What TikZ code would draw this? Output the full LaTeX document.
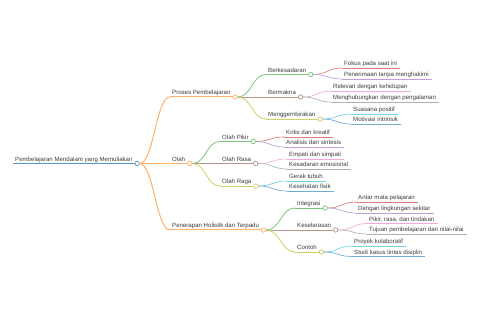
\documentclass[tikz,border=0pt]{standalone}
\usepackage{fontspec}
\setmainfont{Liberation Sans}
\usetikzlibrary{calc}
\definecolor{tcol}{HTML}{3C3C3C}
\definecolor{cblue}{HTML}{1F77B4}
\definecolor{corange}{HTML}{FF7F0E}
\definecolor{cgreen}{HTML}{2CA02C}
\definecolor{cred}{HTML}{D62728}
\definecolor{cpurple}{HTML}{9467BD}
\definecolor{cbrown}{HTML}{8C564B}
\definecolor{cpink}{HTML}{E377C2}
\definecolor{cgray}{HTML}{7F7F7F}
\definecolor{colive}{HTML}{BCBD22}
\definecolor{ccyan}{HTML}{17BECF}
\colorlet{kblue}{cblue!75!white}
\colorlet{korange}{corange!62!white}
\colorlet{kgreen}{cgreen!62!white}
\colorlet{kred}{cred!62!white}
\colorlet{kpurple}{cpurple!62!white}
\colorlet{kbrown}{cbrown!62!white}
\colorlet{kpink}{cpink!62!white}
\colorlet{kgray}{cgray!62!white}
\colorlet{kolive}{colive!70!white}
\colorlet{kcyan}{ccyan!62!white}
\colorlet{kblue2}{cblue!62!white}
\tikzset{
  txt/.style={anchor=base west, inner xsep=2pt, inner ysep=0pt, text=tcol,
    font=\fontsize{6.1}{7}\selectfont},
  dot/.style={circle, inner sep=0pt, minimum size=4.4pt, fill=white, draw=#1, line width=0.75pt},
}
\newcommand{\mmin}[6]{%
  \coordinate (s-#1) at (#2,#3);
  \node[txt] (t-#1) at ([yshift=2pt]s-#1) {#4};
  \node[dot=#5] (c-#1) at ([xshift=2.4pt,yshift=-2pt]t-#1.base east) {};
  \draw[#5, line width=#6] (s-#1) -- (c-#1.west);
}
\newcommand{\mmleaf}[6]{%
  \coordinate (s-#1) at (#2,#3);
  \node[txt] (t-#1) at ([yshift=2pt]s-#1) {#4};
  \draw[#5, line width=#6] (s-#1) -- ([xshift=1pt,yshift=-2pt]t-#1.base east);
}
\newcommand{\mmlink}[4]{%
  \draw[#3, line width=#4] (c-#1.east) .. controls +(14,0) and +(-14,0) .. (s-#2);
}
\begin{document}
\begin{tikzpicture}[x=1pt,y=-1pt]
\fill[white] (0,0) rectangle (480,320);
\useasboundingbox (0,0) rectangle (480,320);
% root
\mmin{root}{13}{163.5}{Pembelajaran Mendalam yang Memuliakan}{kblue}{1.4pt}
% level 1
\mmin{proses}{170}{97}{Proses Pembelajaran}{korange}{1pt}
\mmin{olah}{170}{163.5}{Olah}{korange}{1pt}
\mmin{penerapan}{170}{230}{Penerapan Holistik dan Terpadu}{korange}{1pt}
% level 2
\mmin{berkesadaran}{266}{74.5}{Berkesadaran}{kgreen}{0.8pt}
\mmin{bermakna}{266}{97}{Bermakna}{kbrown}{0.8pt}
\mmin{menggembirakan}{266}{119}{Menggembirakan}{kolive}{0.8pt}
\mmin{olahpikir}{220}{141.5}{Olah Pikir}{kgreen}{0.8pt}
\mmin{olahrasa}{220}{163.5}{Olah Rasa}{kbrown}{0.8pt}
\mmin{olahraga}{220}{186}{Olah Raga}{kolive}{0.8pt}
\mmin{integrasi}{295}{208}{Integrasi}{kgreen}{0.8pt}
\mmin{keselarasan}{295}{230}{Keselarasan}{kbrown}{0.8pt}
\mmin{contoh}{295}{252}{Contoh}{kolive}{0.8pt}
% leaves
\mmleaf{fokus}{342}{68}{Fokus pada saat ini}{kred}{0.65pt}
\mmleaf{penerimaan}{342}{79}{Penerimaan tanpa menghakimi}{kpurple}{0.65pt}
\mmleaf{relevan}{331}{91}{Relevan dengan kehidupan}{kpink}{0.65pt}
\mmleaf{menghubungkan}{331}{102}{Menghubungkan dengan pengalaman}{kgray}{0.65pt}
\mmleaf{suasana}{351}{114}{Suasana positif}{kcyan}{0.65pt}
\mmleaf{motivasi}{351}{124}{Motivasi intrinsik}{kblue2}{0.65pt}
\mmleaf{kritis}{284}{137}{Kritis dan kreatif}{kred}{0.65pt}
\mmleaf{analisis}{284}{147}{Analisis dan sintesis}{kpurple}{0.65pt}
\mmleaf{empati}{287}{159}{Empati dan simpati}{kpink}{0.65pt}
\mmleaf{kesadaran}{287}{169}{Kesadaran emosional}{kgray}{0.65pt}
\mmleaf{gerak}{287}{181}{Gerak tubuh}{kcyan}{0.65pt}
\mmleaf{kesehatan}{287}{191}{Kesehatan fisik}{kblue2}{0.65pt}
\mmleaf{antar}{356}{202}{Antar mata pelajaran}{kred}{0.65pt}
\mmleaf{dengan}{356}{213}{Dengan lingkungan sekitar}{kpurple}{0.65pt}
\mmleaf{pikir}{367}{223.5}{Pikir, rasa, dan tindakan}{kpink}{0.65pt}
\mmleaf{tujuan}{367}{234}{Tujuan pembelajaran dan nilai-nilai}{kgray}{0.65pt}
\mmleaf{proyek}{352}{246}{Proyek kolaboratif}{kcyan}{0.65pt}
\mmleaf{studi}{352}{256.5}{Studi kasus lintas disiplin}{kblue2}{0.65pt}
% links
\mmlink{root}{proses}{korange}{1pt}
\mmlink{root}{olah}{korange}{1pt}
\mmlink{root}{penerapan}{korange}{1pt}
\mmlink{proses}{berkesadaran}{kgreen}{0.8pt}
\mmlink{proses}{bermakna}{kbrown}{0.8pt}
\mmlink{proses}{menggembirakan}{kolive}{0.8pt}
\mmlink{olah}{olahpikir}{kgreen}{0.8pt}
\mmlink{olah}{olahrasa}{kbrown}{0.8pt}
\mmlink{olah}{olahraga}{kolive}{0.8pt}
\mmlink{penerapan}{integrasi}{kgreen}{0.8pt}
\mmlink{penerapan}{keselarasan}{kbrown}{0.8pt}
\mmlink{penerapan}{contoh}{kolive}{0.8pt}
\mmlink{berkesadaran}{fokus}{kred}{0.65pt}
\mmlink{berkesadaran}{penerimaan}{kpurple}{0.65pt}
\mmlink{bermakna}{relevan}{kpink}{0.65pt}
\mmlink{bermakna}{menghubungkan}{kgray}{0.65pt}
\mmlink{menggembirakan}{suasana}{kcyan}{0.65pt}
\mmlink{menggembirakan}{motivasi}{kblue2}{0.65pt}
\mmlink{olahpikir}{kritis}{kred}{0.65pt}
\mmlink{olahpikir}{analisis}{kpurple}{0.65pt}
\mmlink{olahrasa}{empati}{kpink}{0.65pt}
\mmlink{olahrasa}{kesadaran}{kgray}{0.65pt}
\mmlink{olahraga}{gerak}{kcyan}{0.65pt}
\mmlink{olahraga}{kesehatan}{kblue2}{0.65pt}
\mmlink{integrasi}{antar}{kred}{0.65pt}
\mmlink{integrasi}{dengan}{kpurple}{0.65pt}
\mmlink{keselarasan}{pikir}{kpink}{0.65pt}
\mmlink{keselarasan}{tujuan}{kgray}{0.65pt}
\mmlink{contoh}{proyek}{kcyan}{0.65pt}
\mmlink{contoh}{studi}{kblue2}{0.65pt}
\end{tikzpicture}
\end{document}
